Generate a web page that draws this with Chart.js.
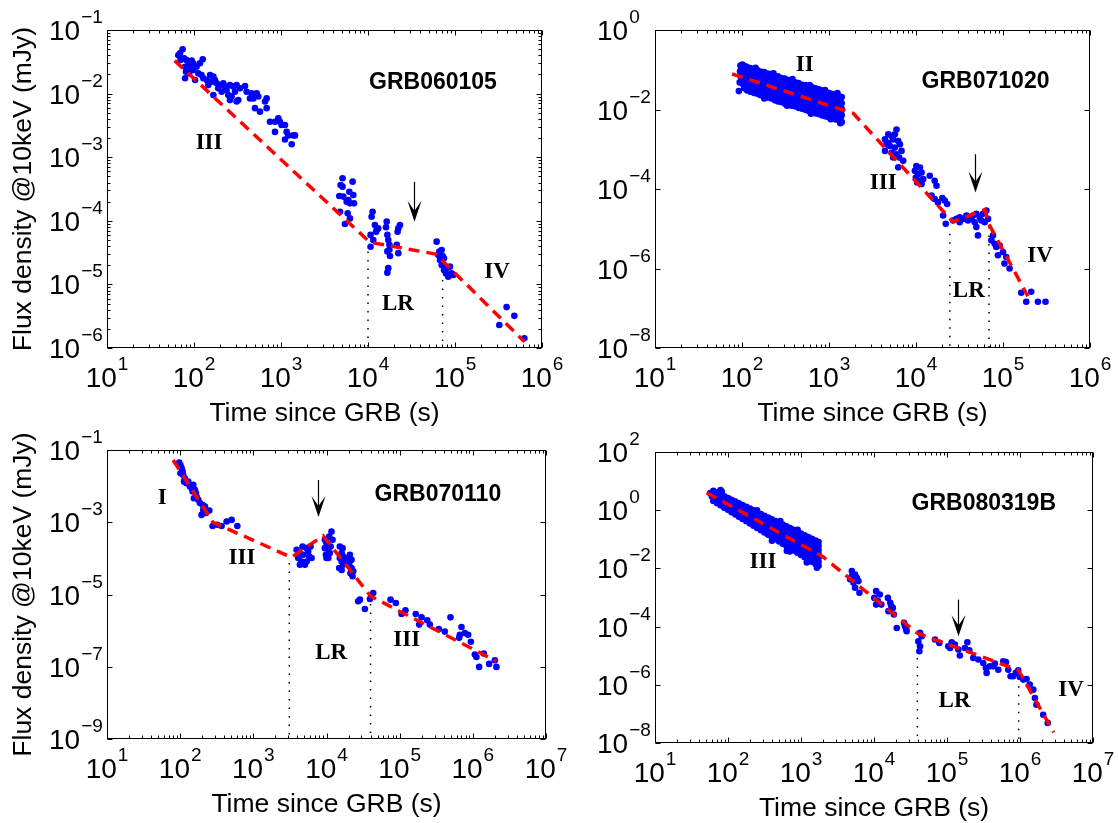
<!DOCTYPE html>
<html>
<head>
<meta charset="utf-8">
<title>X-ray light curves at 10 keV</title>
<script src="https://cdn.jsdelivr.net/npm/chart.js@4.4.1/dist/chart.umd.min.js"></script>
<style>
  html, body { margin: 0; padding: 0; background: #fff; }
  #fig { position: relative; width: 1118px; height: 823px; }
  #fig canvas { position: absolute; left: 0; top: 0; }
</style>
</head>
<body>
<div id="fig">
  <canvas id="p1" width="1118" height="823"></canvas>
  <canvas id="p2" width="1118" height="823"></canvas>
  <canvas id="p3" width="1118" height="823"></canvas>
  <canvas id="p4" width="1118" height="823"></canvas>
</div>
<script>
/**
 * Four log-log light curves (flux density @10keV vs time since GRB).
 * Data is [time (s), flux (mJy)] pairs.
 */

// ---------- GRB060105 ----------
const pts060105 = [
  [74,0.0497],[69,0.043],[66,0.040],[77,0.0359],[70,0.0337],[82,0.0337],[90,0.0318],[94,0.033],[98,0.030],[86,0.0282],
  [79,0.0265],[91,0.0249],[81,0.0221],[88,0.0208],[98,0.0235],[107,0.0265],[117,0.030],[126,0.0346],[112,0.0208],[122,0.0196],
  [79,0.0174],[103,0.0164],[128,0.0174],[140,0.0164],[153,0.0196],[167,0.0185],[160,0.0154],[174,0.0164],[182,0.0145],[146,0.0136],
  [199,0.0136],[217,0.0145],[190,0.0121],[227,0.0129],[237,0.0114],[259,0.0136],[283,0.0129],[309,0.0136],[208,0.0107],[167,0.0095],
  [248,0.0095],[271,0.0090],[296,0.0107],[338,0.0121],[386,0.0132],[323,0.0079],[259,0.0079],[309,0.0075],[403,0.0107],[460,0.0101],
  [525,0.0101],[440,0.0084],[481,0.0084],[548,0.0090],[684,0.0084],[655,0.0075],[502,0.0059],[573,0.0052],[684,0.0059],[747,0.0036],
  [853,0.0036],[973,0.0036],[931,0.0041],[1016,0.0032],[1111,0.0032],[853,0.0025],[1161,0.0025],[1213,0.0022],[1387,0.0022],[1449,0.0022],
  [1111,0.0019],[1327,0.0016],
  [5100,4.66e-4],[4840,3.66e-4],[5100,3.44e-4],[6650,4.13e-4],[5200,2.40e-4],[6100,2.87e-4],[6780,2.55e-4],[4680,2.45e-4],[5680,2.0e-4],[6200,1.88e-4],
  [6900,1.88e-4],[5940,2.12e-4],[4770,1.39e-4],[5840,1.31e-4],[6200,1.09e-4],[5430,8.9e-5],
  [11300,1.39e-4],[11000,1.16e-4],[12000,8.6e-5],[12600,7.2e-5],[10700,6.0e-5],[11500,5.0e-5],[10700,3.9e-5],[12400,6.7e-5],[13100,7.6e-5],[16400,9.7e-5],
  [16100,7.9e-5],[16700,6.0e-5],[17100,5.0e-5],[17600,3.5e-5],[16700,3.3e-5],[17900,2.8e-5],[17100,1.8e-5],[16700,1.53e-5],[22300,7.6e-5],[23300,8.6e-5],
  [21900,6.7e-5],[21400,4.2e-5],[22300,3.1e-5],[17600,4.2e-5],
  [61500,4.7e-5],[66100,3.27e-5],[70200,3.47e-5],[64300,2.9e-5],[72100,2.8e-5],[67200,2.42e-5],[74700,2.57e-5],[70200,2.02e-5],[80100,1.79e-5],[87500,1.90e-5],
  [91400,1.49e-5],[83800,1.32e-5],[95500,1.41e-5],[74700,1.69e-5],[78700,1.49e-5],
  [323000,2.3e-6],[392000,4.4e-6],[481000,3.2e-6],[627000,1.42e-6]
];
const fit060105 = [[60,0.033],[1.05e4,4.6e-5],[6.0e4,3.0e-5],[6.3e5,1.25e-6]];
const lr060105 = [[1.0e4,3.3e-5],[7.2e4,1.17e-5]];          // dotted LR bounds: [t, top flux]
const arrow060105 = [3.4e4,4.1e-4,9.7e-5];                    // [t, tail flux, tip flux]
const notes060105 = [['GRB060105',5.58e4,1.47e-2,'name'],['III',149,1.67e-3,'phase'],['LR',2.21e4,4.9e-6,'phase'],['IV',3.04e5,1.57e-5,'phase']];

// ---------- GRB071020 ----------
const pts071020 = [
  [92,0.029],[96,0.128],[95,0.092],[97,0.066],[94,0.048],
  [101,0.135],[104,0.112],[103,0.087],[105,0.063],[102,0.044],[106,0.034],
  [113,0.118],[114,0.083],[116,0.061],[112,0.042],[115,0.03],
  [124,0.11],[126,0.079],[123,0.056],[127,0.04],[125,0.028],
  [137,0.104],[136,0.072],[139,0.053],[135,0.037],[138,0.026],
  [149,0.098],[151,0.07],[148,0.048],[152,0.035],[150,0.025],
  [164,0.09],[163,0.066],[166,0.046],[165,0.032],[162,0.023],
  [180,0.088],[178,0.06],[182,0.043],[179,0.031],[181,0.021],
  [197,0.08],[196,0.058],[199,0.04],[195,0.029],[198,0.02],
  [216,0.078],[214,0.053],[218,0.038],[215,0.026],[217,0.019],
  [236,0.07],[238,0.05],[235,0.036],[237,0.025],[239,0.017],
  [259,0.068],[257,0.046],[261,0.033],[258,0.024],[260,0.016],
  [283,0.062],[285,0.045],[281,0.031],[284,0.022],[282,0.0155],
  [310,0.06],[308,0.041],[312,0.029],[309,0.021],[311,0.014],
  [340,0.055],[338,0.04],[342,0.028],[339,0.019],[341,0.0135],
  [372,0.052],[370,0.036],[374,0.026],[371,0.018],[373,0.0125],
  [407,0.048],[405,0.034],[409,0.024],[406,0.017],[408,0.012],
  [446,0.046],[444,0.032],[448,0.023],[445,0.016],[447,0.011],
  [488,0.042],[486,0.03],[490,0.021],[487,0.015],[489,0.0105],
  [534,0.041],[532,0.028],[536,0.02],[533,0.014],[535,0.0098],
  [585,0.038],[583,0.026],[587,0.019],[584,0.013],[586,0.0092],
  [640,0.036],[638,0.025],[642,0.0175],[639,0.0124],[641,0.0086],
  [700,0.034],[698,0.023],[702,0.0165],[699,0.0117],[701,0.008],
  [766,0.032],[764,0.022],[768,0.0155],[765,0.011],[767,0.0076],
  [839,0.03],[837,0.0205],[841,0.0146],[838,0.0103],[840,0.0071],
  [918,0.028],[916,0.0193],[920,0.0137],[917,0.0097],[919,0.0067],
  [1005,0.026],[1003,0.018],[1007,0.0129],[1004,0.0091],[1006,0.0063],
  [1100,0.0245],[1098,0.017],[1102,0.012],[1099,0.0086],[1101,0.0059],
  [1205,0.023],[1203,0.016],[1207,0.0113],[1204,0.008],[1206,0.0056],
  [1320,0.0215],[1318,0.015],[1322,0.0106],[1319,0.0075],[1321,0.0052],
  [1400,0.0205],[1398,0.0144],[1402,0.0102],[1399,0.0072],[1401,0.0048],
  // filling between the rows of the dense phase-II band
  [98,0.109],[98,0.078],[98,0.056],
  [108,0.123],[108,0.099],[108,0.074],[108,0.053],[108,0.039],
  [119,0.099],[119,0.071],[119,0.051],[119,0.035],
  [131,0.093],[131,0.066],[131,0.047],[131,0.033],
  [143,0.087],[143,0.062],[143,0.044],[143,0.031],
  [157,0.083],[157,0.058],[157,0.041],[157,0.03],
  [172,0.077],[172,0.055],[172,0.038],[172,0.027],
  [188,0.073],[188,0.051],[188,0.037],[188,0.0255],
  [206,0.068],[206,0.048],[206,0.034],[206,0.024],
  [226,0.064],[226,0.045],[226,0.031],[226,0.022],
  [247,0.059],[247,0.042],[247,0.03],[247,0.0206],
  [271,0.056],[271,0.039],[271,0.028],[271,0.0196],
  [296,0.053],[296,0.037],[296,0.026],[296,0.0185],
  [325,0.05],[325,0.0345],[325,0.0247],[325,0.0171],
  [356,0.047],[356,0.0335],[356,0.023],[356,0.016],
  [389,0.043],[389,0.0306],[389,0.0216],[389,0.015],
  [426,0.04],[426,0.0286],[426,0.0202],[426,0.0143],
  [467,0.038],[467,0.027],[467,0.0192],[467,0.0133],
  [511,0.0355],[511,0.0251],[511,0.0177],[511,0.0125],
  [559,0.0339],[559,0.0237],[559,0.0167],[559,0.0117],
  [612,0.0314],[612,0.0222],[612,0.0157],[612,0.0109],
  [670,0.03],[670,0.0209],[670,0.0147],[670,0.0103],
  [733,0.028],[733,0.0195],[733,0.0139],[733,0.0097],
  [802,0.0265],[802,0.0185],[802,0.013],[802,0.0091],
  [878,0.0248],[878,0.0173],[878,0.0123],[878,0.0086],
  [961,0.0232],[961,0.0163],[961,0.0115],[961,0.0081],
  [1052,0.0216],[1052,0.0152],[1052,0.0108],[1052,0.0076],
  [1152,0.0204],[1152,0.0143],[1152,0.0102],[1152,0.0071],
  [1262,0.0192],[1262,0.0134],[1262,0.0095],[1262,0.0067],
  [1360,0.018],[1360,0.0126],[1360,0.0089],[1360,0.0062],
  [143,0.112],[230,0.082],[380,0.058],[600,0.041],[900,0.031],[1250,0.026],
  [180,0.019],[330,0.0125],[620,0.0078],[1050,0.0057],[1350,0.0045],
  [5970,3.15e-3],[4800,2.37e-3],[5240,2.15e-3],[4400,1.77e-3],[5470,1.77e-3],[6250,1.61e-3],[4590,1.33e-3],[5010,1.21e-3],[5720,1.10e-3],[6530,1.33e-3],
  [6820,9.1e-4],[4400,9.1e-4],[5240,8.2e-4],[5970,7.5e-4],[6410,6.2e-4],[5470,6.2e-4],[6250,3.5e-4],[7130,5.1e-4],[4800,1.46e-3],[5720,2.37e-3],
  [10100,3.8e-4],[11100,3.47e-4],[9700,2.86e-4],[10600,2.36e-4],[11600,2.6e-4],[9960,1.95e-4],[11100,1.61e-4],[12100,1.77e-4],[11600,1.33e-4],[10300,1.46e-4],
  [14400,2.15e-4],[16400,1.61e-4],[17200,1.21e-4],[15100,6.8e-5],[16400,5.6e-5],[20100,5.9e-5],[21400,5.1e-5],[22800,4.2e-5],[17900,4.6e-5],[20500,2.15e-5],
  [22000,1.33e-5],
  [26700,1.61e-5],[29100,1.77e-5],[31800,1.95e-5],[34800,1.77e-5],[38000,2.15e-5],[41400,1.95e-5],[45300,2.15e-5],[49400,2.37e-5],[54000,1.95e-5],[58900,2.37e-5],
  [64400,2.86e-5],[67300,1.77e-5],[47300,1.46e-5],[49400,1.10e-5],[51600,6.8e-6],[31800,1.46e-5],[39600,1.61e-5],[56400,1.61e-5],[61500,1.46e-5],[43300,1.77e-5],
  [73500,5.1e-6],[80200,4.2e-6],[83800,3.47e-6],[91600,3.8e-6],[87500,2.15e-6],[100000,2.6e-6],[109000,1.95e-6],[104000,1.33e-6],[119000,1.0e-6],[76700,6.8e-6],
  [162000,2.45e-7],[211000,2.6e-7],[185000,1.46e-7],[252000,1.46e-7],[308000,1.46e-7]
];
const fit071020 = [[77,0.078],[1900,0.0080],[2.65e4,1.5e-5],[6.2e4,3.0e-5],[6.9e4,1.3e-5],[1.93e5,2.0e-7]];
const lr071020 = [[2.45e4,7.5e-6],[6.9e4,1.1e-5]];
const arrow071020 = [4.73e4,7.5e-4,8.2e-5];
const notes071020 = [['II',526,0.133,'phase'],['GRB071020',6.3e4,0.051,'name'],['III',4200,1.39e-4,'phase'],['LR',4.05e4,2.77e-7,'phase'],['IV',2.67e5,2.04e-6,'phase']];

// ---------- GRB070110 ----------
const pts070110 = [
  [97,0.0447],[101,0.0385],[105,0.0311],[108,0.0252],[101,0.0226],[110,0.0204],[116,0.0165],[113,0.0133],[122,0.0120],[129,0.0133],
  [136,0.0097],[144,0.0087],[151,0.0108],[148,0.0071],[159,0.0079],[164,0.0064],[168,0.0051],[154,0.0046],[177,0.0042],[186,0.0034],
  [203,0.0030],[218,0.0027],[207,0.0022],[230,0.0021],[250,0.0021],[196,0.0016],[225,0.0018],
  [277,7.9e-4],[321,8.5e-4],[368,7.9e-4],[431,1.05e-3],[505,1.16e-3],[604,7.9e-4],
  [3900,1.73e-4],[4330,1.40e-4],[4110,1.02e-4],[4560,8.2e-5],[4810,1.26e-4],[5340,1.92e-4],[5620,1.55e-4],[5810,1.13e-4],[5340,8.2e-5],[6250,1.02e-4],
  [4330,6.7e-5],[5070,6.7e-5],[6050,2.13e-4],[4710,2.13e-4],
  [9500,3.27e-4],[10000,2.64e-4],[9500,1.92e-4],[10600,1.73e-4],[9820,1.26e-4],[11100,1.40e-4],[10000,1.02e-4],[11700,5.5e-4],[10900,4.0e-4],[11400,2.13e-4],
  [10600,1.02e-4],[12100,3.27e-4],
  [15200,2.13e-4],[16600,1.92e-4],[16100,1.40e-4],[16900,1.13e-4],[15200,1.02e-4],[16100,8.2e-5],[16900,6.7e-5],[14900,5.4e-5],[16100,4.8e-5],[17300,9.1e-5],
  [20900,1.26e-4],[22000,9.1e-5],[20500,7.4e-5],[22000,5.4e-5],[21300,3.9e-5],[22700,3.2e-5],[19800,1.02e-4],[23200,4.4e-5],
  [27100,6.5e-6],[28600,7.2e-6],[33500,3.96e-6],[39200,7.5e-6],[43500,1.10e-5],[75000,7.2e-6],[88700,5.8e-6],[106000,2.88e-6],[120000,3.65e-6],[166000,2.88e-6],
  [185000,1.47e-6],[199000,2.33e-6],[238000,1.93e-6],[258000,1.47e-6],[343000,1.11e-6],[414000,9.4e-7],[495000,2.33e-6],[650000,6.3e-7],[700000,1.26e-6],[778000,8.6e-7],
  [863000,7.7e-7],[940000,4.9e-7],[1.065e6,2.17e-7],[1.12e6,1.87e-7],[1.41e6,2.32e-7],[1.22e6,9.9e-8],[1.67e6,1.2e-7],[2.0e6,1.51e-7],[2.1e6,9.9e-8],[664000,7.7e-7]
];
const fit070110 = [[80,0.053],[280,1.0e-3],[3300,1.07e-4],[9000,4.2e-4],[4.0e4,9.0e-6],[2.1e6,1.42e-7]];
const lr070110 = [[3100,7.4e-5],[4.0e4,5.5e-6]];
const arrow070110 = [7700,0.0148,1.4e-3];
const notes070110 = [['I',57,4.6e-3,'phase'],['III',698,1.01e-4,'phase'],['GRB070110',3.33e5,5.7e-3,'name'],['LR',1.16e4,2.4e-7,'phase'],['III',1.25e5,5.6e-7,'phase']];

// ---------- GRB080319B ----------
const pts080319B = [
  [57,3.9],[60,3.0],[79,4.9],[82,4.4],
  [63,4.61],[63,3.55],[63,2.72],[63,2.09],
  [71,4.01],[71,3.04],[71,2.31],[71,1.75],
  [79,3.48],[79,2.61],[79,1.95],[79,1.47],
  [89,3.03],[89,2.24],[89,1.66],[89,1.22],
  [100,2.63],[100,1.92],[100,1.40],[100,1.03],
  [112,2.29],[112,1.65],[112,1.19],[112,0.857],
  [126,1.99],[126,1.42],[126,1.01],[126,0.718],
  [141,1.73],[141,1.21],[141,0.853],[141,0.60],
  [158,1.50],[158,1.04],[158,0.723],[158,0.502],
  [178,1.30],[178,0.893],[178,0.612],[178,0.42],
  [200,1.13],[200,0.767],[200,0.519],[200,0.352],
  [224,0.984],[224,0.658],[224,0.44],[224,0.294],
  [251,0.855],[251,0.565],[251,0.372],[251,0.246],
  [282,0.743],[282,0.484],[282,0.316],[282,0.206],
  [316,0.646],[316,0.416],[316,0.267],[316,0.172],
  [355,0.561],[355,0.356],[355,0.226],[355,0.144],
  [398,0.488],[398,0.306],[398,0.192],[398,0.12],
  [447,0.424],[447,0.262],[447,0.163],[447,0.10],
  [501,0.368],[501,0.225],[501,0.138],[501,0.0843],
  [562,0.32],[562,0.193],[562,0.117],[562,0.0705],
  [631,0.278],[631,0.166],[631,0.0989],[631,0.059],[640,0.04],
  [708,0.242],[708,0.142],[708,0.0838],[708,0.0493],
  [794,0.21],[794,0.122],[794,0.071],[794,0.0413],
  [891,0.182],[891,0.105],[891,0.0601],[891,0.0345],
  [1000,0.158],[1000,0.09],[1000,0.0509],[1000,0.0289],
  [1122,0.138],[1122,0.0771],[1122,0.0432],[1122,0.0242],
  [1259,0.12],[1259,0.0662],[1259,0.0366],[1259,0.0202],
  [1413,0.104],[1413,0.0568],[1413,0.031],[1413,0.0169],
  [1585,0.0904],[1585,0.0486],[1585,0.0262],[1585,0.0142],
  [1740,0.0807],[1740,0.043],[1740,0.023],[1740,0.0123],
  // filling between the rows of the dense phase-III band
  [67,4.05],[67,3.11],[67,2.38],
  [75,3.49],[75,2.65],[75,2.01],
  [84,3.01],[84,2.26],[84,1.69],
  [94,2.61],[94,1.93],[94,1.42],
  [106,2.25],[106,1.64],[106,1.20],
  [119,1.94],[119,1.40],[119,1.01],
  [133,1.68],[133,1.20],[133,0.852],
  [149,1.45],[149,1.02],[149,0.715],
  [168,1.25],[168,0.867],[168,0.602],
  [189,1.08],[189,0.739],[189,0.507],
  [212,0.931],[212,0.631],[212,0.427],
  [237,0.805],[237,0.538],[237,0.36],
  [266,0.695],[266,0.458],[266,0.302],
  [299,0.6],[299,0.391],[299,0.255],
  [335,0.518],[335,0.333],[335,0.214],
  [376,0.447],[376,0.284],[376,0.18],
  [422,0.386],[422,0.242],[422,0.152],
  [474,0.333],[474,0.207],[474,0.128],
  [531,0.288],[531,0.176],[531,0.108],
  [596,0.249],[596,0.15],[596,0.0908],
  [668,0.215],[668,0.128],[668,0.0764],
  [750,0.185],[750,0.109],[750,0.0643],
  [841,0.16],[841,0.0931],[841,0.0542],
  [944,0.138],[944,0.0794],[944,0.0455],
  [1060,0.119],[1060,0.0677],[1060,0.0384],
  [1190,0.103],[1190,0.0577],[1190,0.0323],
  [1335,0.0891],[1335,0.0492],[1335,0.0272],
  [1500,0.0769],[1500,0.042],[1500,0.0229],
  [1660,0.0663],[1660,0.0357],[1660,0.0193],
  [1740,0.0589],[1740,0.0314],[1740,0.0168],
  [250,1.0],[520,0.42],[900,0.21],[400,0.09],[700,0.038],[1200,0.016],[1650,0.0105],
  [4970,8.1e-3],[5510,6.2e-3],[5800,4.8e-3],[4710,4.2e-3],[5230,3.2e-3],[6120,3.66e-3],[5510,2.16e-3],[6320,1.45e-3],[4970,5.4e-3],
  [10700,1.65e-3],[12000,1.27e-3],[10100,9.7e-4],[11300,7.5e-4],[12600,5.7e-4],[10700,5.7e-4],
  [15500,9.7e-4],[16700,6.6e-4],[18100,4.4e-4],[15800,3.4e-4],[18700,2.6e-4],[17300,5.0e-4],
  [20500,9.0e-5],[25800,1.34e-4],[27500,8.4e-5],[28000,6.9e-5],[26600,1.03e-4],
  [42700,6.1e-5],[45000,4.7e-5],[40500,3.1e-5],[42700,2.1e-5],[41800,1.42e-5],
  [68400,3.6e-5],[78500,2.75e-5],[104000,2.1e-5],[116000,2.9e-5],[128000,2.4e-5],[143000,1.63e-5],[150000,1.01e-5],[110000,1.85e-5],[176000,1.85e-5],[190000,2.9e-5],
  [202000,1.54e-5],[229000,8.4e-6],[268000,7.4e-6],[314000,5.6e-6],[341000,3.8e-6],[349000,2.56e-6],[387000,4.3e-6],[430000,4.3e-6],[453000,5.4e-6],[504000,3.3e-6],
  [589000,6.4e-6],[641000,6.0e-6],[690000,3.3e-6],[743000,1.96e-6],[807000,1.96e-6],[878000,2.56e-6],[945000,3.16e-6],[996000,1.86e-6],[1.11e6,1.51e-6],[1.23e6,1.59e-6],
  [1.36e6,1.02e-6],[1.52e6,6.8e-7],[1.60e6,3.5e-7],[1.68e6,2.08e-7],[2.08e6,9.4e-8],[2.4e6,4.9e-8]
];
const fit080319B = [[51,4.0],[2000,0.025],[3.9e4,6.0e-5],[9.5e5,3.2e-6],[2.9e6,2.3e-8]];
const lr080319B = [[3.93e4,8.4e-6],[9.6e5,8.9e-7]];
const arrow080319B = [1.42e5,8.5e-4,4.7e-5];
const notes080319B = [['GRB080319B',3.19e5,1.71,'name'],['III',302,0.0164,'phase'],['LR',1.27e5,2.7e-7,'phase'],['IV',5.0e6,6.5e-7,'phase']];

// decade exponents for axis limits and labelled ticks
const xDecTop = [1, 6];
const xDecBottom = [1, 7];
const xTicksTop = [1, 2, 3, 4, 5, 6];
const xTicksBottom = [1, 2, 3, 4, 5, 6, 7];
const yTicks060105 = [-6, -5, -4, -3, -2, -1];
const yTicks071020 = [-8, -6, -4, -2, 0];
const yTicks070110 = [-9, -7, -5, -3, -1];
const yTicks080319B = [-8, -6, -4, -2, 0, 2];

const SANS = '"Liberation Sans", Arial, sans-serif';
const SERIF = '"Liberation Serif", "Times New Roman", serif';

/**
 * Draws a "10^n" label: base "10" plus raised exponent
 */
function drawPow(ctx, exp, x, baseY, supY, centered) {
    const sup = exp < 0 ? '\u2212' + Math.abs(exp) : String(exp);
    ctx.font = `28px ${SANS}`;
    const wb = ctx.measureText('10').width;
    ctx.font = `19px ${SANS}`;
    const ws = ctx.measureText(sup).width;
    const x0 = centered ? x - (wb + 1 + ws) / 2 : x;
    ctx.textAlign = 'left';
    ctx.textBaseline = 'alphabetic';
    ctx.font = `28px ${SANS}`;
    ctx.fillText('10', x0, baseY);
    ctx.font = `19px ${SANS}`;
    ctx.fillText(sup, x0 + wb + 1, supY);
}

/**
 * MATLAB-like axes: boxed frame, inward ticks, power labels, titles, notes and arrow
 */
const matlabAxes = {
    id: 'matlabAxes',
    afterDatasetsDraw(chart, args, o) {
        const { ctx, chartArea: a } = chart;
        const xs = chart.scales.x, ys = chart.scales.y;
        const L = Math.round(a.left) + 0.5, R = Math.round(a.right) - 0.5;
        const T = Math.round(a.top) + 0.5, B = Math.round(a.bottom) - 0.5;
        ctx.save();
        ctx.strokeStyle = '#000';
        ctx.fillStyle = '#000';
        ctx.lineWidth = 1;
        ctx.setLineDash([]);
        ctx.strokeRect(L, T, R - L, B - T);

        // ticks
        ctx.beginPath();
        for (let e = o.xDec[0]; e <= o.xDec[1]; e++) {
            for (let m = 1; m <= 9; m++) {
                if (m > 1 && e === o.xDec[1]) break;
                const px = Math.round(xs.getPixelForValue(m * Math.pow(10, e))) + 0.5;
                const len = m === 1 ? 5 : 3;
                ctx.moveTo(px, B); ctx.lineTo(px, B - len);
                ctx.moveTo(px, T); ctx.lineTo(px, T + len);
            }
        }
        o.yTicks.forEach(e => {
            const py = Math.round(ys.getPixelForValue(Math.pow(10, e))) + 0.5;
            ctx.moveTo(L, py); ctx.lineTo(L + 5, py);
            ctx.moveTo(R, py); ctx.lineTo(R - 5, py);
        });
        if (o.yMinor) {
            for (let e = o.yTicks[0]; e < o.yTicks[o.yTicks.length - 1]; e++) {
                for (let m = 2; m <= 9; m++) {
                    const py = Math.round(ys.getPixelForValue(m * Math.pow(10, e))) + 0.5;
                    ctx.moveTo(L, py); ctx.lineTo(L + 3, py);
                    ctx.moveTo(R, py); ctx.lineTo(R - 3, py);
                }
            }
        }
        ctx.stroke();

        // tick labels
        o.xTicks.forEach(e => {
            const px = xs.getPixelForValue(Math.pow(10, e));
            drawPow(ctx, e, px, a.bottom + 39, a.bottom + 22, true);
        });
        o.yTicks.forEach(e => {
            const py = ys.getPixelForValue(Math.pow(10, e));
            drawPow(ctx, e, a.left - 58, py + 10, py - 7, false);
        });

        // axis titles
        ctx.font = `26.5px ${SANS}`;
        ctx.textAlign = 'center';
        ctx.textBaseline = 'alphabetic';
        ctx.fillText('Time since GRB (s)', (a.left + a.right) / 2, a.bottom + 73);
        if (o.yTitle) {
            ctx.save();
            ctx.translate(a.left - 76, (a.top + a.bottom) / 2);
            ctx.rotate(-Math.PI / 2);
            ctx.fillText('Flux density @10keV (mJy)', 0, 0);
            ctx.restore();
        }

        // text notes placed in data coordinates
        ctx.textBaseline = 'middle';
        o.notes.forEach(([txt, t, f, kind]) => {
            ctx.font = kind === 'name' ? `bold 23px ${SANS}` : `bold 23px ${SERIF}`;
            ctx.fillText(txt, xs.getPixelForValue(t), ys.getPixelForValue(f));
        });

        // arrow marking the late rebrightening
        const [at, aTop, aTip] = o.arrow;
        const ax = Math.round(xs.getPixelForValue(at)) + 0.5;
        const y0 = ys.getPixelForValue(aTop), y1 = ys.getPixelForValue(aTip);
        ctx.lineWidth = 1.2;
        ctx.beginPath();
        ctx.moveTo(ax, y0); ctx.lineTo(ax, y1 - 10);
        ctx.stroke();
        ctx.beginPath();
        ctx.moveTo(ax, y1);
        ctx.lineTo(ax - 7, y1 - 21);
        ctx.lineTo(ax, y1 - 11);
        ctx.lineTo(ax + 7, y1 - 21);
        ctx.closePath();
        ctx.fill();
        ctx.restore();
    }
};

/**
 * Builds one panel. Every canvas covers the whole figure; padding sets the axes box.
 */
function makePanel(id, p) {
    const yMin = Math.pow(10, p.yTicks[0]);
    const yMax = Math.pow(10, p.yTicks[p.yTicks.length - 1]);
    const dotted = p.lr.map(([t, top]) => ({
        data: [{ x: t, y: top }, { x: t, y: yMin }],
        showLine: true, borderColor: '#000', borderWidth: 1.5, borderDash: [1.5, 7],
        pointRadius: 0, order: 1
    }));

    new Chart(document.getElementById(id), {
        type: 'scatter',
        data: {
            datasets: [
                {
                    data: p.fit.map(([x, y]) => ({ x, y })),
                    showLine: true, borderColor: '#ff0000', borderWidth: 3.5,
                    borderDash: [11, 7], borderCapStyle: 'butt', pointRadius: 0, order: 0
                },
                ...dotted,
                {
                    data: p.pts.map(([x, y]) => ({ x, y })),
                    pointRadius: 3.3, pointBackgroundColor: '#0000ff', pointBorderWidth: 0,
                    pointBorderColor: '#0000ff', order: 2
                }
            ]
        },
        options: {
            responsive: false,
            animation: false,
            devicePixelRatio: 1,
            events: [],
            layout: { padding: p.pad },
            plugins: {
                legend: { display: false },
                tooltip: { enabled: false },
                matlabAxes: {
                    xDec: p.xDec, xTicks: p.xTicks, yTicks: p.yTicks, yMinor: p.yMinor,
                    yTitle: p.yTitle, notes: p.notes, arrow: p.arrow
                }
            },
            scales: {
                x: { type: 'logarithmic', min: Math.pow(10, p.xDec[0]), max: Math.pow(10, p.xDec[1]), display: false },
                y: { type: 'logarithmic', min: yMin, max: yMax, display: false }
            }
        },
        plugins: [matlabAxes]
    });
}

makePanel('p1', {
    pts: pts060105, fit: fit060105, lr: lr060105, arrow: arrow060105, notes: notes060105,
    xDec: xDecTop, xTicks: xTicksTop, yTicks: yTicks060105, yMinor: true, yTitle: true,
    pad: { left: 107, top: 30, right: 576, bottom: 475 }
});
makePanel('p2', {
    pts: pts071020, fit: fit071020, lr: lr071020, arrow: arrow071020, notes: notes071020,
    xDec: xDecTop, xTicks: xTicksTop, yTicks: yTicks071020, yMinor: false, yTitle: false,
    pad: { left: 655, top: 30, right: 28, bottom: 475 }
});
makePanel('p3', {
    pts: pts070110, fit: fit070110, lr: lr070110, arrow: arrow070110, notes: notes070110,
    xDec: xDecBottom, xTicks: xTicksBottom, yTicks: yTicks070110, yMinor: false, yTitle: true,
    pad: { left: 107, top: 450, right: 572, bottom: 84 }
});
makePanel('p4', {
    pts: pts080319B, fit: fit080319B, lr: lr080319B, arrow: arrow080319B, notes: notes080319B,
    xDec: xDecBottom, xTicks: xTicksBottom, yTicks: yTicks080319B, yMinor: false, yTitle: false,
    pad: { left: 655, top: 452, right: 25, bottom: 80 }
});
</script>
</body>
</html>
